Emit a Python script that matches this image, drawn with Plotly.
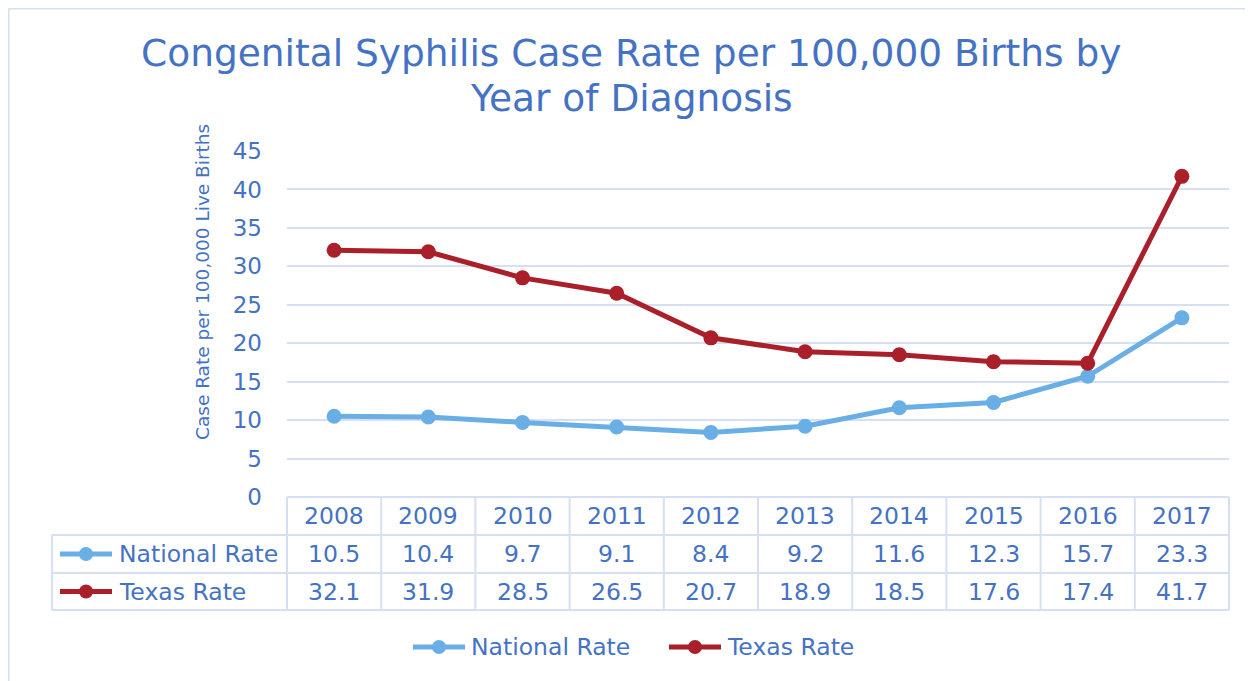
import plotly.graph_objects as go

years = ["2008", "2009", "2010", "2011", "2012", "2013", "2014", "2015", "2016", "2017"]
national_rate = [10.5, 10.4, 9.7, 9.1, 8.4, 9.2, 11.6, 12.3, 15.7, 23.3]
texas_rate = [32.1, 31.9, 28.5, 26.5, 20.7, 18.9, 18.5, 17.6, 17.4, 41.7]
series_names = ["National Rate", "Texas Rate"]
y_ticks = [0, 5, 10, 15, 20, 25, 30, 35, 40, 45]
title_lines = ["Congenital Syphilis Case Rate per 100,000 Births by", "Year of Diagnosis"]
y_title = "Case Rate per 100,000 Live Births"

W, H = 1253, 681
OFF = 8  # page body margin in the browser
TXT = "#4472C4"
GRID = "#D6E0F2"
NAT = "#6AAEE6"
TEX = "#A9202A"
FONT = "DejaVu Sans"


def px(x):
    return (x - OFF) / W


def py(y):
    return 1 - (y - OFF) / H


fig = go.Figure()
fig.add_trace(go.Scatter(x=years, y=national_rate, name=series_names[0], mode="lines+markers",
                         line=dict(color=NAT, width=5), marker=dict(size=15, color=NAT)))
fig.add_trace(go.Scatter(x=years, y=texas_rate, name=series_names[1], mode="lines+markers",
                         line=dict(color=TEX, width=5), marker=dict(size=15, color=TEX)))

plot_l, plot_r = 287, 1229
y0_px, y45_px = 497, 151
row_edges = [497, 535, 573, 610]
table_left = 52

shapes = []
shapes.append(dict(type="line", xref="paper", yref="paper", x0=0.6 / W, x1=0.6 / W, y0=1 - 0.6 / H, y1=0,
                   line=dict(color=GRID, width=2)))
shapes.append(dict(type="line", xref="paper", yref="paper", x0=0.6 / W, x1=1, y0=1 - 0.6 / H, y1=1 - 0.6 / H,
                   line=dict(color=GRID, width=2)))
for i, yy in enumerate(row_edges):
    x0 = plot_l if i == 0 else table_left
    shapes.append(dict(type="line", xref="paper", yref="paper", x0=px(x0), x1=px(plot_r),
                       y0=py(yy), y1=py(yy), line=dict(color=GRID, width=2)))
col_w = (plot_r - plot_l) / len(years)
for k in range(len(years) + 1):
    xx = plot_l + k * col_w
    shapes.append(dict(type="line", xref="paper", yref="paper", x0=px(xx), x1=px(xx),
                       y0=py(row_edges[0]), y1=py(row_edges[-1]), line=dict(color=GRID, width=2)))
shapes.append(dict(type="line", xref="paper", yref="paper", x0=px(table_left), x1=px(table_left),
                   y0=py(row_edges[1]), y1=py(row_edges[-1]), line=dict(color=GRID, width=2)))

annotations = []


def legend_key(xc, yc, color):
    shapes.append(dict(type="line", xref="paper", yref="paper", x0=px(xc - 26), x1=px(xc + 26),
                       y0=py(yc), y1=py(yc), line=dict(color=color, width=5)))
    shapes.append(dict(type="circle", xref="paper", yref="paper", x0=px(xc - 7), x1=px(xc + 7),
                       y0=py(yc + 7), y1=py(yc - 7), fillcolor=color, line=dict(color=color, width=0)))


def note(x, xref, y, text, size, xanchor="center", angle=0):
    annotations.append(dict(x=x, xref=xref, y=y, yref="paper", text=text, showarrow=False,
                            xanchor=xanchor, yanchor="middle", textangle=angle,
                            font=dict(size=size, color=TXT, family=FONT)))


TS = 23.5
# table cells: x given as category index on the x axis
for i, yr in enumerate(years):
    note(i, "x", py((row_edges[0] + row_edges[1]) / 2), yr, TS)
for r, (name, vals, color) in enumerate([(series_names[0], national_rate, NAT),
                                          (series_names[1], texas_rate, TEX)]):
    yc = (row_edges[r + 1] + row_edges[r + 2]) / 2
    legend_key(86, yc, color)
    note(px(117), "paper", py(yc), name, TS, xanchor="left")
    for i, v in enumerate(vals):
        note(i, "x", py(yc), f"{v:.1f}", TS)

for name, color, xc, xt in [(series_names[0], NAT, 439, 469), (series_names[1], TEX, 695, 725)]:
    legend_key(xc, 647, color)
    note(px(xt), "paper", py(647), name, TS, xanchor="left")

note(px(631), "paper", py(53), title_lines[0], 37.5)
note(px(631), "paper", py(98), title_lines[1], 37.5)
note(px(202), "paper", py(282), y_title, 18.5, angle=-90)

fig.update_layout(
    width=W, height=H, autosize=False,
    margin=dict(l=0, r=0, t=0, b=0, pad=0, autoexpand=False),
    paper_bgcolor="white", plot_bgcolor="white",
    showlegend=False,
    shapes=shapes, annotations=annotations,
    xaxis=dict(domain=[px(plot_l), px(plot_r)], type="category", range=[-0.5, 9.5], automargin=False,
               showticklabels=False, showgrid=False, zeroline=False, showline=False),
    yaxis=dict(domain=[py(y0_px), py(y45_px)], range=[0, 45], tickvals=y_ticks, automargin=False,
               showgrid=True, gridcolor=GRID, gridwidth=2, zeroline=False, showline=False,
               ticklabelstandoff=24, tickfont=dict(size=23, color=TXT, family=FONT)),
)

fig.write_html("out.html")
